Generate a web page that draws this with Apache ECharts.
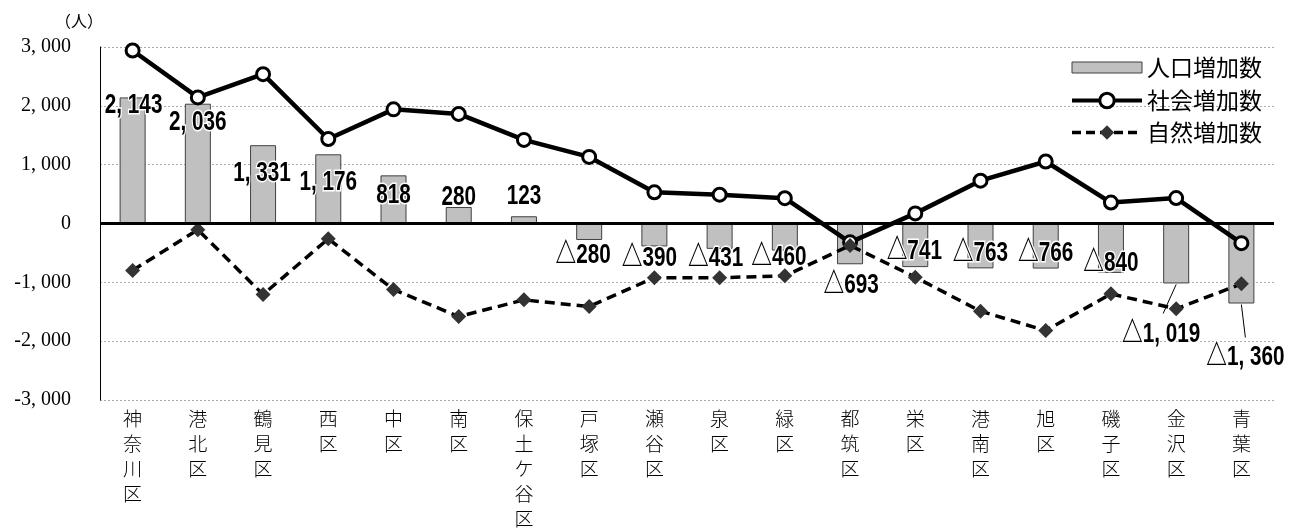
<!DOCTYPE html>
<html><head><meta charset="utf-8">
<script src="https://cdn.jsdelivr.net/npm/echarts@6/dist/echarts.min.js"></script>
<style>html,body{margin:0;padding:0;background:#fff}#c{width:1303px;height:528px}</style>
</head><body><div id="c"></div>
<script>
const categories = ['神奈川区','港北区','鶴見区','西区','中区','南区','保土ケ谷区','戸塚区','瀬谷区','泉区','緑区','都筑区','栄区','港南区','旭区','磯子区','金沢区','青葉区'];
const populationIncrease = [2143,2036,1331,1176,818,280,123,-280,-390,-431,-460,-693,-741,-763,-766,-840,-1019,-1360];
const socialIncrease = [2940,2143,2538,1436,1940,1862,1421,1132,530,490,430,-320,172,728,1054,356,432,-334];
const naturalIncrease = [-797,-107,-1207,-260,-1122,-1582,-1298,-1412,-920,-921,-890,-373,-913,-1491,-1820,-1196,-1451,-1026];
const seriesNames = ['人口増加数','社会増加数','自然増加数'];
const yMin = -3000, yMax = 3000, yStep = 1000;
const unitLabel = '（人）';

function fmt(n){ return String(n).replace(/\B(?=(\d{3})+(?!\d))/g, ', '); }
function barLabel(v){ return v < 0 ? '△' + fmt(-v) : fmt(v); }

const chart = echarts.init(document.getElementById('c'));
const legendText = { fontSize: 23, color: '#000', fontFamily: '"Noto Sans CJK JP"' };
chart.setOption({
  animation: false,
  textStyle: { fontFamily: '"Noto Sans CJK JP", sans-serif' },
  title: { text: unitLabel, left: 50, top: 8, textStyle: { fontSize: 16, fontWeight: 'normal', color: '#000', fontFamily: '"Noto Sans CJK JP"' } },
  legend: [
    { data: [{ name: seriesNames[0], icon: 'rect' }], orient: 'vertical', right: 36, top: 51,
      itemWidth: 70, itemHeight: 11, textStyle: legendText,
      itemStyle: { borderColor: '#404040', borderWidth: 1 } },
    { data: [
        { name: seriesNames[1], lineStyle: { width: 4, color: '#000' }, itemStyle: { color: '#fff', borderColor: '#000', borderWidth: 3 } },
        { name: seriesNames[2], lineStyle: { width: 3.5, color: '#000', type: [9,5] }, itemStyle: { color: '#333' } }
      ],
      orient: 'vertical', right: 36, top: 84, itemGap: 9,
      itemWidth: 70, itemHeight: 18, textStyle: legendText }
  ],
  grid: { left: 100, right: 29, top: 47, bottom: 128, containLabel: false, outerBoundsMode: 'none' },
  xAxis: {
    type: 'category', data: categories,
    axisLine: { show: false }, axisTick: { show: false },
    axisLabel: {
      interval: 0, margin: 6, color: '#000', fontSize: 19, lineHeight: 25, verticalAlign: 'top',
      fontFamily: '"Noto Sans CJK JP"', fontWeight: 300,
      formatter: v => v.split('').join('\n')
    }
  },
  yAxis: {
    type: 'value', min: yMin, max: yMax, interval: yStep,
    axisLine: { show: true, lineStyle: { color: '#000', width: 1 } },
    axisTick: { show: false },
    splitLine: { show: true, lineStyle: { color: '#aaaaaa', type: [2,2], width: 1 } },
    axisLabel: { margin: 29, color: '#000', fontSize: 20, fontFamily: '"Liberation Serif", serif',
      formatter: v => (v < 0 ? '-' : '') + fmt(Math.abs(v)) }
  },
  series: [
    {
      name: seriesNames[0], type: 'bar', data: populationIncrease, barWidth: 26,
      itemStyle: { color: '#c0c0c0', borderColor: '#404040', borderWidth: 1 },
      label: { show: false },
      markLine: {
        silent: true, symbol: 'none', label: { show: false },
        lineStyle: { color: '#000', width: 3, type: 'solid' },
        data: [{ yAxis: 0 }]
      },
      z: 2
    },
    {
      name: seriesNames[1], type: 'line', data: socialIncrease,
      symbol: 'circle', symbolSize: 13,
      lineStyle: { color: '#000', width: 4.5 },
      itemStyle: { color: '#fff', borderColor: '#000', borderWidth: 3 },
      z: 3
    },
    {
      name: seriesNames[2], type: 'line', data: naturalIncrease,
      symbol: 'diamond', symbolSize: 15,
      lineStyle: { color: '#000', width: 3.5, type: [10,6] },
      itemStyle: { color: '#333' },
      z: 4
    }
  ]
});

// data labels: condensed text placed relative to each bar end (pixel from the chart's own scales)
const nudges = [[1,8],[0,19],[-1,28],[0,28],[0,20],[0,-10],[0,-20],[-6,15],[-5,12],[-4,9],[-6,7],[1,21],[-1,-16],[0,-15],[0,-15],[0,-10],[-15,51],[4,54]];
const leaders = { 16: [-13, 30], 17: [4, 34] };
const gfx = [];
populationIncrease.forEach((v, i) => {
  const p = chart.convertToPixel({ seriesIndex: 0 }, [i, v]);
  gfx.push({
    type: 'text', x: p[0] + nudges[i][0], y: p[1] + nudges[i][1], scaleX: 0.74, z: 100, silent: true,
    style: {
      text: barLabel(v), fill: '#000', stroke: '#fff', lineWidth: 3,
      font: 'bold 28px "Liberation Sans", "Noto Sans CJK JP"',
      align: 'center', verticalAlign: 'middle', textAlign: 'center', textVerticalAlign: 'middle'
    }
  });
  if (leaders[i]) {
    gfx.push({ type: 'line', z: 99, silent: true,
      shape: { x1: p[0], y1: p[1] + 1, x2: p[0] + leaders[i][0], y2: p[1] + leaders[i][1] },
      style: { stroke: '#000', lineWidth: 1 } });
  }
});
chart.setOption({ graphic: gfx });
</script></body></html>
